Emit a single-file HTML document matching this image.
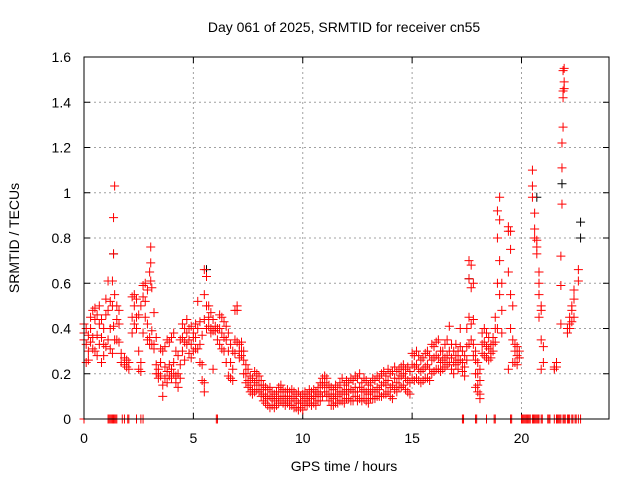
<!DOCTYPE html>
<html><head><meta charset="utf-8"><style>
html,body{margin:0;padding:0;background:#fff}
svg{display:block;font-family:"Liberation Sans",sans-serif}
</style></head><body>
<svg id="chart" width="640" height="480" xmlns="http://www.w3.org/2000/svg">
<rect x="0" y="0" width="640" height="480" fill="#fff"/>
<text x="344" y="32" font-size="14" text-anchor="middle" fill="#000">Day 061 of 2025, SRMTID for receiver cn55</text>
<text x="344" y="471" font-size="14" text-anchor="middle">GPS time / hours</text>
<text transform="translate(19,238) rotate(-90)" font-size="14" text-anchor="middle">SRMTID / TECUs</text>
<g id="grid"></g><g id="ticks"></g><g id="marks"></g>
<rect x="84" y="57" width="525" height="362" fill="none" stroke="#000" stroke-width="1"/>
</svg>
<script>
const xTicks=[0,5,10,15,20];
const yTicks=[0,0.2,0.4,0.6,0.8,1,1.2,1.4,1.6];
const yTickLabels=["0","0.2","0.4","0.6","0.8","1","1.2","1.4","1.6"];
// red series rows: first entry = time (hours), rest = SRMTID values at that time
const redRows=[
[0,0.42,0.38,0.35],[0.1,0.40,0.33,0.25],[0.2,0.37,0.30,0.26],[0.3,0.45,0.40,0.34],[0.4,0.48,0.36,0.31],[0.5,0.49,0.44,0.30],[0.6,0.46,0.37,0.28],[0.7,0.50,0.42,0.33],[0.8,0.44,0.36,0.25],[0.9,0.40,0.33,0.28],
[1.0,0.53,0.46,0.32],[1.1,0.61,0.48,0.35],[1.2,0.52,0.40,0.31],[1.3,0.61,0.50,0.29],[1.35,0.73,0.89,0.41],[1.4,1.03,0.55,0.35],[1.5,0.50,0.44,0.35],[1.6,0.48,0.42,0.34],[1.7,0.29,0.25],[1.85,0.27,0.24],[1.95,0.26,0.23],[2.05,0.25,0.22],
[2.2,0.54,0.45,0.38],[2.3,0.55,0.50,0.42],[2.4,0.53,0.45,0.40],[2.5,0.46,0.30,0.22],[2.6,0.50,0.25,0.21],[2.7,0.59,0.54,0.38],[2.8,0.60,0.52,0.45],[2.9,0.57,0.42,0.35],[3.0,0.65,0.36,0.33],[3.05,0.76,0.69,0.61],[3.1,0.58,0.39,0.33],[3.2,0.47,0.33,0.31],
[3.3,0.36,0.24,0.20],[3.4,0.22,0.20,0.18],[3.5,0.31,0.25,0.19],[3.6,0.30,0.15,0.10],[3.7,0.32,0.23,0.18],[3.8,0.35,0.21,0.16],[3.9,0.34,0.24,0.19],[4.0,0.36,0.22,0.18],[4.1,0.38,0.25,0.20],[4.2,0.30,0.19,0.16],[4.3,0.28,0.20,0.14],[4.4,0.35,0.24,0.18],
[4.5,0.42,0.36,0.30],[4.6,0.40,0.34,0.26],[4.7,0.44,0.38,0.33],[4.8,0.40,0.35,0.29],[4.9,0.41,0.33,0.27],[5.0,0.38,0.36,0.30],[5.1,0.42,0.36,0.31],[5.2,0.52,0.40,0.31],[5.3,0.43,0.33,0.25],[5.4,0.37,0.24,0.17],[5.5,0.66,0.55,0.44,0.16,0.12],[5.6,0.63,0.50,0.40],[5.7,0.50,0.45,0.41],
[5.8,0.47,0.40,0.38],[5.9,0.44,0.39,0.22],[6.0,0.41,0.39],[6.1,0.40,0.35],[6.2,0.46,0.40,0.33],[6.3,0.45,0.38,0.31],[6.4,0.43,0.36,0.30],[6.5,0.41,0.35,0.25],[6.6,0.38,0.30,0.19],[6.7,0.33,0.25,0.18],[6.8,0.30,0.22,0.17],[6.9,0.48,0.35,0.29],[7.0,0.50,0.48,0.34],[7.1,0.33,0.30,0.27],[7.2,0.34,0.30,0.28],[7.3,0.30,0.26,0.20],
[7.4,0.24,0.20,0.16],[7.5,0.22,0.17,0.14],[7.6,0.19,0.15,0.12],[7.7,0.18,0.13,0.11],[7.8,0.21,0.16,0.12],[7.9,0.20,0.17,0.13],[8.0,0.19,0.15,0.12],[8.1,0.17,0.13,0.10],[8.2,0.15,0.11,0.08],[8.3,0.14,0.10,0.07],[8.4,0.13,0.09,0.06],[8.5,0.14,0.10,0.05],[8.6,0.12,0.09,0.06],[8.7,0.11,0.08,0.05],[8.8,0.12,0.09,0.06],
[8.9,0.14,0.10,0.07],[9.0,0.15,0.12,0.08],[9.1,0.13,0.10,0.07],[9.2,0.12,0.09,0.06],[9.3,0.13,0.10,0.07],[9.4,0.12,0.08,0.06],[9.5,0.13,0.10,0.06],[9.6,0.12,0.09,0.05],[9.7,0.11,0.08,0.05],[9.8,0.12,0.07,0.04],[9.9,0.10,0.07,0.05],[10.0,0.11,0.08,0.04],[10.1,0.12,0.09,0.06],[10.2,0.11,0.08,0.06],[10.3,0.13,0.10,0.07],[10.4,0.12,0.09,0.06],
[10.5,0.13,0.10,0.07],[10.6,0.12,0.10,0.06],[10.7,0.14,0.11,0.08],[10.8,0.16,0.12,0.08],[10.9,0.18,0.15,0.10],[11.0,0.19,0.16,0.12],[11.1,0.18,0.14,0.10],[11.2,0.15,0.11,0.08],[11.3,0.14,0.10,0.06],[11.4,0.13,0.09,0.06],[11.5,0.15,0.11,0.07],[11.6,0.14,0.10,0.07],[11.7,0.16,0.12,0.08],[11.8,0.18,0.12,0.08],
[11.9,0.15,0.11,0.07],[12.0,0.17,0.13,0.09],[12.1,0.16,0.12,0.09],[12.2,0.18,0.13,0.08],[12.3,0.17,0.12,0.08],[12.4,0.19,0.14,0.10],[12.5,0.18,0.12,0.08],[12.6,0.20,0.14,0.09],[12.7,0.16,0.12,0.08],[12.8,0.18,0.13,0.09],[12.9,0.17,0.12,0.08],[13.0,0.15,0.11,0.07],[13.1,0.16,0.12,0.09],[13.2,0.18,0.13,0.09],[13.3,0.17,0.12,0.09],
[13.4,0.19,0.14,0.10],[13.5,0.18,0.13,0.10],[13.6,0.20,0.15,0.10],[13.7,0.21,0.16,0.11],[13.8,0.19,0.15,0.11],[13.9,0.22,0.17,0.12],[14.0,0.20,0.14,0.10],[14.1,0.21,0.15,0.09],[14.2,0.23,0.18,0.13],[14.3,0.21,0.16,0.12],[14.4,0.22,0.18,0.14],[14.5,0.23,0.19,0.14],[14.6,0.24,0.20,0.15],[14.7,0.22,0.18,0.13],[14.8,0.23,0.17,0.12],[14.9,0.21,0.16,0.11],
[15.0,0.29,0.24,0.18],[15.1,0.28,0.23,0.17],[15.2,0.30,0.24,0.18],[15.3,0.28,0.22,0.17],[15.4,0.26,0.21,0.16],[15.5,0.27,0.22,0.17],[15.6,0.29,0.23,0.18],[15.7,0.30,0.24,0.18],[15.8,0.28,0.22,0.17],[15.9,0.33,0.26,0.20],[16.0,0.32,0.27,0.21],[16.1,0.34,0.28,0.22],[16.2,0.35,0.27,0.22],[16.3,0.30,0.25,0.21],[16.4,0.30,0.26,0.22],
[16.5,0.33,0.27,0.23],[16.6,0.35,0.28,0.24],[16.7,0.41,0.30,0.25],[16.8,0.33,0.27,0.22],[16.9,0.30,0.25,0.20],[17.0,0.33,0.28,0.24],[17.1,0.30,0.26,0.22],[17.2,0.40,0.32,0.26],[17.3,0.30,0.25,0.21],[17.4,0.28,0.23,0.19],
[17.5,0.40,0.32,0.26],[17.6,0.70,0.62,0.45,0.33],[17.7,0.68,0.58,0.42,0.35],[17.8,0.60,0.44,0.33,0.28],[17.9,0.30,0.26,0.20,0.14],[18.0,0.25,0.20,0.15,0.12],[18.1,0.22,0.17,0.11,0.09],[18.2,0.38,0.33,0.29],[18.3,0.40,0.34,0.28],[18.4,0.38,0.32,0.27],[18.5,0.36,0.31,0.26],[18.6,0.33,0.29,0.27],
[18.7,0.36,0.33,0.30],[18.8,0.45,0.40,0.34],[18.9,0.92,0.80,0.60,0.40],[19.0,0.98,0.88,0.70,0.55],[19.1,0.60,0.48,0.38],[19.4,0.85,0.83,0.65,0.22],[19.5,0.83,0.75,0.55,0.40],[19.6,0.50,0.35,0.25],[19.7,0.33,0.30,0.25],[19.8,0.32,0.28,0.24],[19.9,0.30,0.27],
[20.5,1.10,1.03,0.98],[20.6,0.91,0.84,0.80],[20.7,0.76,0.73,0.79],[20.8,0.65,0.60,0.55,0.45],[20.9,0.50,0.48,0.35,0.22],[21.0,0.32,0.25],[21.5,0.23,0.22],[21.6,0.25,0.23],[21.8,0.72,0.59,0.42],[21.85,0.95,1.11,1.22],[21.9,1.29,1.42,1.45,1.54],[21.95,1.55,1.46,1.49],
[22.1,0.40,0.38],[22.2,0.42,0.40,0.45],[22.3,0.50,0.48,0.43],[22.4,0.57,0.53,0.45],[22.6,0.66,0.61]];
// black series (mostly hidden under red)
const blackTimes=[1.35,5.6,17.6,20.7,21.85,22.7,22.7];
const blackValues=[0.73,0.66,0.62,0.98,1.04,0.80,0.87];
// zero-valued samples
const zeroTimes=[0,1.1,1.15,1.2,1.25,1.3,1.35,1.4,1.45,1.5,1.75,1.85,2.0,2.05,2.4,2.6,2.7,6.05,6.1,17.3,17.35,17.9,17.95,18.4,18.75,18.8,19.5,19.55,20.0,20.05,20.1,20.15,20.2,20.25,20.3,20.35,20.4,20.5,20.55,20.6,20.65,20.7,20.75,20.8,20.9,20.95,21.2,21.25,21.3,21.5,21.6,21.65,21.7,21.75,21.8,21.9,21.95,22.0,22.1,22.15,22.2,22.3,22.35,22.45,22.5,22.6,22.7];
const X0=84,X1=609,Y0=419,Y1=57,XMAX=24,YMAX=1.6;
function xs(t){return X0+(X1-X0)*t/XMAX;}
function ys(v){return Y0-(Y0-Y1)*v/YMAX;}
const NS="http://www.w3.org/2000/svg";
function mk(tag,attrs,parent){const e=document.createElementNS(NS,tag);for(const k in attrs)e.setAttribute(k,attrs[k]);parent.appendChild(e);return e;}
const grid=document.getElementById('grid'),ticks=document.getElementById('ticks'),marks=document.getElementById('marks');
xTicks.forEach(t=>{const x=xs(t);
 if(t>0){const g=mk('line',{x1:x,x2:x,y1:Y0,y2:Y1,stroke:'#a0a0a0','stroke-dasharray':'2,3'},grid);
 
 }
 mk('line',{x1:x,x2:x,y1:Y0,y2:Y0-6,stroke:'#000'},ticks);
 mk('line',{x1:x,x2:x,y1:Y1,y2:Y1+6,stroke:'#000'},ticks);
 const l=mk('text',{x:x,y:443,'font-size':14,'text-anchor':'middle'},ticks);l.textContent=t;
 
 
});
yTicks.forEach((v,i)=>{const y=ys(v);
 if(v>0&&v<YMAX){const g=mk('line',{x1:X0,x2:X1,y1:y,y2:y,stroke:'#a0a0a0','stroke-dasharray':'2,3'},grid);
 
 }
 mk('line',{x1:X0,x2:X0+6,y1:y,y2:y,stroke:'#000'},ticks);
 mk('line',{x1:X1,x2:X1-6,y1:y,y2:y,stroke:'#000'},ticks);
 const l=mk('text',{x:71,y:y+5,'font-size':14,'text-anchor':'end'},ticks);l.textContent=yTickLabels[i];
 
 
});
function plus(t,v,color,name){const x=xs(t),y=ys(v);
 const p=mk('path',{d:`M${x-4.5},${y}h9M${x},${y-4.5}v9`,stroke:color,'stroke-width':1,fill:'none'},marks);
 
 }
blackTimes.forEach((t,i)=>plus(t,blackValues[i],'#000','black-point'));
redRows.forEach(row=>{for(let k=1;k<row.length;k++)plus(row[0],row[k],'#ff0000','red-point');});
zeroTimes.forEach(t=>plus(t,0,'#ff0000','zero-point'));
</script>
</body></html>
